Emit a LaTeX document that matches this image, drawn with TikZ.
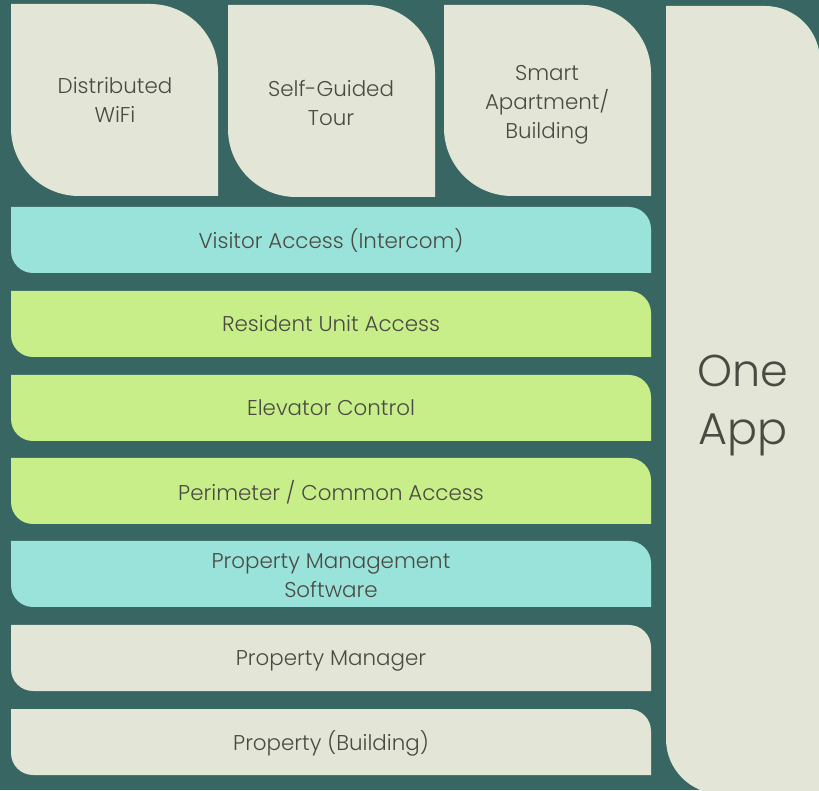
\documentclass[tikz,border=0pt]{standalone}
\usepackage{fontspec}
\setmainfont{Poppins}[UprightFont=*-Light]
\definecolor{bgteal}{HTML}{386663}
\definecolor{cream}{HTML}{E3E5D6}
\definecolor{aqua}{HTML}{9AE3DA}
\definecolor{lime}{HTML}{C8EE8A}
\definecolor{txt}{HTML}{4A4A42}
\newcommand{\leafshape}[6]{% x1, ytop, x2, ybottom (px from top), radius, colour
  \fill[#6] (#1,790-#2) -- ({#3-#5},790-#2) arc[start angle=90,end angle=0,radius=#5]
    -- (#3,790-#4) -- ({#1+#5},790-#4) arc[start angle=270,end angle=180,radius=#5] -- cycle;}
\tikzset{
  lbl/.style={text=txt, font=\fontsize{21.4}{29}\selectfont, align=center, inner sep=0pt},
  big/.style={text=txt, font=\fontsize{44.5}{58}\selectfont, align=center, inner sep=0pt}
}
\begin{document}
\begin{tikzpicture}[x=1pt,y=1pt]
\useasboundingbox (0,0) rectangle (819,790);
\clip (0,0) rectangle (819,790);
\fill[bgteal] (0,0) rectangle (819,790);
% tiles
\leafshape{11}{4}{218}{196}{68}{cream}
\leafshape{228}{5}{435}{197}{68}{cream}
\leafshape{444}{5}{651}{196}{68}{cream}
% one app column
\leafshape{666}{6}{820}{794}{55}{cream}
% bars
\leafshape{11}{207}{651}{273}{22}{aqua}
\leafshape{11}{291}{651}{357}{22}{lime}
\leafshape{11}{375}{651}{441}{22}{lime}
\leafshape{11}{458}{651}{524}{22}{lime}
\leafshape{11}{541}{651}{607}{22}{aqua}
\leafshape{11}{625}{651}{691}{22}{cream}
\leafshape{11}{709}{651}{775}{22}{cream}
% labels
\node[lbl] (wifi) at (115,790-100) {Distributed\\WiFi};
\node[lbl] (tour) at (331,790-103) {Self-Guided\\Tour};
\node[lbl] (smart) at (547,790-105) {Smart\\Apartment/\\Building};
\node[lbl] (visitor) at (331,790-241) {Visitor Access (Intercom)};
\node[lbl] (resident) at (331,790-324) {Resident Unit Access};
\node[lbl] (elevator) at (331,790-408) {Elevator Control};
\node[lbl] (perimeter) at (331,790-492) {Perimeter / Common Access};
\node[lbl] (pms) at (331,790-576) {Property Management\\Software};
\node[lbl] (pm) at (331,790-661) {Property Manager};
\node[lbl] (prop) at (331,790-743) {Property (Building)};
\node[big] (oneapp) at (743,790-406) {One\\App};
\end{tikzpicture}
\end{document}
